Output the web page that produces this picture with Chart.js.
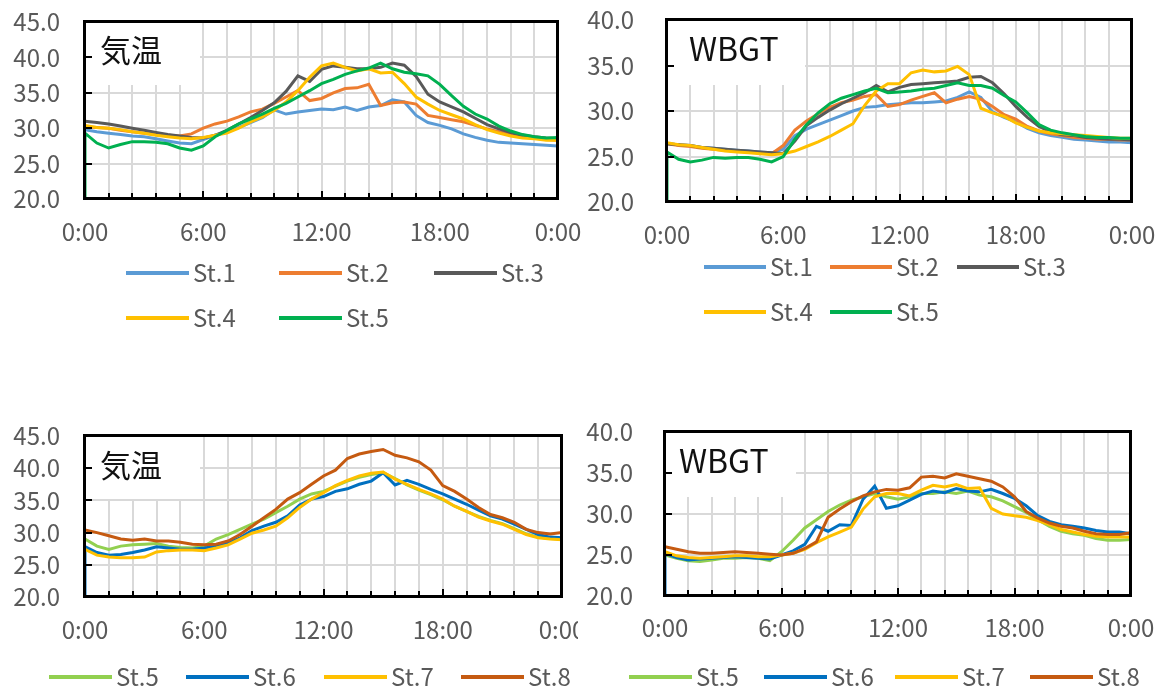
<!DOCTYPE html>
<html lang="ja">
<head>
<meta charset="utf-8">
<title>気温・WBGT</title>
<script src="https://cdn.jsdelivr.net/npm/chart.js@4.4.1/dist/chart.umd.min.js"></script>
<style>
  html, body { margin: 0; padding: 0; background: #fff; }
  body { width: 1168px; height: 689px; position: relative; overflow: hidden; }
  .panel { position: absolute; overflow: hidden; }
  .panel canvas { display: block; }
  .frame { position: absolute; box-sizing: border-box; border: 3px solid #000; pointer-events: none; }
  .tick { position: absolute; background: #000; pointer-events: none; }
</style>
</head>
<body>
<div class="panel" id="p-tl" style="left:0;top:0;width:600px;height:345px"><canvas id="tl" width="600" height="345"></canvas></div>
<div class="panel" id="p-tr" style="left:580px;top:0;width:588px;height:345px"><canvas id="tr" width="588" height="345"></canvas></div>
<div class="panel" id="p-bl" style="left:0;top:400px;width:578px;height:289px"><canvas id="bl" width="600" height="289"></canvas></div>
<div class="panel" id="p-br" style="left:580px;top:400px;width:588px;height:289px"><canvas id="br" width="588" height="289"></canvas></div>
<script>
// time of day in hours (one reading every 36 min)
const times = [0,0.6,1.2,1.8,2.4,3,3.6,4.2,4.8,5.4,6,6.6,7.2,7.8,8.4,9,9.6,10.2,10.8,11.4,12,
               12.6,13.2,13.8,14.4,15,15.6,16.2,16.8,17.4,18,18.6,19.2,19.8,20.4,21,21.6,22.2,22.8,23.4,24];

const topNames = ['St.1', 'St.2', 'St.3', 'St.4', 'St.5'];
const bottomNames = ['St.5', 'St.6', 'St.7', 'St.8'];
const topColors = ['#5B9BD5', '#ED7D31', '#595959', '#FFC000', '#00B050'];
const bottomColors = ['#92D050', '#0070C0', '#FFC000', '#C55A11'];

const tempTicks = [20, 25, 30, 35, 40, 45];
const wbgtTicks = [20, 25, 30, 35, 40];
const blankValue = 0; // logger writes an empty reading at both ends of the day

// 気温 (upper)
const tlSt1 = [29.8,29.5,29.3,29.1,28.9,28.8,28.5,28.2,27.9,27.8,28.4,29.0,29.5,30.1,30.8,31.5,32.6,32.0,32.3,32.5,32.7,32.6,33.0,32.5,33.0,33.2,34.0,33.7,31.8,30.8,30.4,29.9,29.2,28.7,28.3,28.0,27.9,27.8,27.7,27.6,27.5];
const tlSt2 = [30.2,30.1,30.0,29.7,29.5,29.3,29.1,29.0,28.9,29.2,30.0,30.6,31.0,31.6,32.3,32.7,33.5,34.4,35.3,33.9,34.2,35.0,35.6,35.7,36.2,33.2,33.6,33.7,33.4,31.8,31.5,31.2,30.9,30.4,29.9,29.5,29.1,28.8,28.6,28.4,28.3];
const tlSt3 = [31.0,30.8,30.6,30.3,30.0,29.7,29.4,29.1,28.9,28.7,28.6,29.0,29.7,30.6,31.5,32.5,33.6,35.2,37.4,36.6,38.3,38.8,38.6,38.4,38.4,38.6,39.2,38.9,37.3,34.8,33.7,33.0,32.3,31.4,30.5,29.9,29.4,29.0,28.8,28.6,28.5];
const tlSt4 = [30.4,30.1,30.0,29.8,29.5,29.3,29.0,28.8,28.6,28.5,28.7,29.0,29.3,30.0,30.9,31.6,32.5,33.7,35.3,37.2,38.8,39.2,38.6,38.1,38.4,37.8,37.9,36.3,34.4,33.4,32.5,31.9,31.3,30.5,29.8,29.3,28.9,28.6,28.5,28.3,28.3];
const tlSt5 = [29.3,27.9,27.2,27.7,28.1,28.1,28.0,27.8,27.2,26.9,27.5,28.8,29.7,30.6,31.3,32.0,32.8,33.5,34.4,35.3,36.3,36.9,37.6,38.1,38.5,39.2,38.4,37.9,37.7,37.4,36.2,34.6,33.1,32.0,31.3,30.3,29.6,29.1,28.8,28.6,28.7];

// WBGT (upper)
const trSt1 = [26.4,26.3,26.2,26.0,25.9,25.8,25.7,25.6,25.5,25.4,25.8,27.3,28.0,28.5,29.0,29.5,30.0,30.4,30.5,30.7,30.8,30.9,30.9,31.0,31.1,31.5,32.1,31.5,29.9,29.3,28.8,28.1,27.6,27.3,27.1,26.9,26.8,26.7,26.6,26.6,26.5];
const trSt2 = [26.4,26.2,26.1,25.9,25.8,25.7,25.6,25.5,25.4,25.3,26.2,27.9,28.9,29.7,30.4,30.9,31.2,31.6,31.8,30.5,30.7,31.2,31.6,32.0,30.9,31.3,31.6,31.3,30.5,29.6,29.1,28.3,27.8,27.5,27.3,27.1,27.0,26.9,26.9,26.8,26.8];
const trSt3 = [26.4,26.3,26.2,26.0,25.9,25.8,25.7,25.6,25.5,25.4,25.3,26.7,28.4,29.3,30.1,30.8,31.4,32.0,32.8,32.1,32.6,32.9,33.0,33.1,33.2,33.3,33.7,33.8,33.1,31.9,30.5,29.3,28.3,27.7,27.4,27.3,27.1,27.0,26.9,26.9,26.8];
const trSt4 = [26.5,26.3,26.2,26.0,25.8,25.6,25.5,25.4,25.3,25.2,25.3,25.6,26.1,26.6,27.2,27.9,28.6,30.6,32.2,33.0,33.0,34.2,34.5,34.3,34.4,34.9,34.0,30.3,29.8,29.4,28.7,28.2,27.8,27.6,27.5,27.4,27.3,27.2,27.1,27.0,27.0];
const trSt5 = [25.5,24.7,24.4,24.6,24.9,24.8,24.9,24.9,24.7,24.4,25.0,26.9,28.5,29.8,30.8,31.4,31.8,32.2,32.5,32.0,32.1,32.2,32.4,32.5,32.8,33.1,32.8,32.8,32.5,31.7,31.0,29.8,28.5,27.9,27.6,27.4,27.2,27.1,27.1,27.0,27.0];

// 気温 (lower)
const blSt5 = [29.0,27.9,27.4,27.9,28.1,28.2,28.3,27.9,27.7,27.6,27.9,29.0,29.7,30.5,31.3,32.1,33.1,34.1,35.2,36.0,36.4,37.2,38.0,38.6,39.0,39.3,38.4,37.4,36.6,35.9,35.1,34.1,33.3,32.5,31.9,31.4,30.6,29.8,29.3,29.1,29.0];
const blSt6 = [27.8,26.9,26.5,26.6,26.9,27.3,27.8,27.6,27.4,27.4,27.6,27.9,28.4,29.2,30.3,31.0,31.6,32.6,34.3,35.2,35.6,36.4,36.8,37.5,38.0,39.3,37.4,38.1,37.5,36.7,36.0,35.2,34.4,33.5,32.6,32.1,31.3,30.5,29.7,29.3,29.2];
const blSt7 = [27.4,26.5,26.2,26.1,26.1,26.2,27.0,27.2,27.3,27.3,27.2,27.6,28.1,29.0,29.9,30.4,31.0,32.3,33.9,35.2,36.2,37.3,38.1,38.8,39.2,39.4,38.3,37.5,36.7,36.0,35.2,34.1,33.3,32.4,31.8,31.3,30.5,29.7,29.2,29.0,28.9];
const blSt8 = [30.4,30.0,29.5,29.0,28.8,29.0,28.7,28.7,28.5,28.2,28.1,28.2,28.7,29.7,31.0,32.3,33.6,35.2,36.2,37.5,38.8,39.7,41.5,42.2,42.6,42.9,42.0,41.6,41.0,39.7,37.3,36.4,35.2,33.9,32.8,32.3,31.6,30.5,30.0,29.8,30.0];

// WBGT (lower)
const brSt5 = [25.0,24.6,24.3,24.2,24.4,24.6,24.6,24.7,24.6,24.3,25.4,26.8,28.3,29.3,30.3,31.1,31.7,32.1,32.5,32.1,31.8,32.1,32.5,32.5,32.7,32.5,32.8,32.3,32.1,31.6,30.9,30.2,29.3,28.5,27.9,27.6,27.4,27.0,26.8,26.8,26.9];
const brSt6 = [25.2,24.7,24.4,24.5,24.6,24.7,24.8,24.7,24.6,24.5,25.0,25.5,26.3,28.5,27.9,28.7,28.6,31.8,33.4,30.7,31.0,31.7,32.4,32.8,32.6,33.1,32.8,32.7,33.0,32.5,31.9,31.0,29.8,29.1,28.7,28.5,28.3,28.0,27.8,27.8,27.6];
const brSt7 = [25.4,24.9,24.7,24.6,24.7,24.8,24.9,24.9,24.8,24.8,25.0,25.2,25.7,26.5,27.2,27.8,28.4,30.6,32.1,32.5,32.5,32.2,32.9,33.5,33.3,33.6,33.1,33.2,30.7,30.0,29.8,29.6,29.2,28.7,28.1,27.8,27.5,27.3,27.2,27.2,27.2];
const brSt8 = [26.0,25.7,25.4,25.2,25.2,25.3,25.4,25.3,25.2,25.1,25.0,25.2,25.8,26.6,29.6,30.6,31.5,32.2,32.7,33.0,32.9,33.2,34.5,34.6,34.4,34.9,34.6,34.3,34.0,33.3,32.1,30.3,29.5,28.9,28.5,28.3,27.9,27.6,27.5,27.5,27.7];

const fontFamily = '"Noto Sans CJK JP", "Noto Sans", sans-serif';
const labelColor = '#595959';
const gridColor = '#D9D9D9';
const gridStep = 1.2; // vertical gridline every 72 min

function hourLabel(v) {
    const h = Math.round(v);
    if (Math.abs(v - h) > 1e-6 || h % 6 !== 0) return '';
    return (h % 24) + ':00';
}

function series(names, colors, values, dropIdx) {
    return names.map((name, i) => {
        const pts = times.map((t, j) => ({ x: t, y: values[i][j] }));
        if (i === dropIdx) {
            pts.unshift({ x: times[0], y: blankValue });
            pts.push({ x: times[times.length - 1], y: blankValue });
        }
        return {
            label: name,
            data: pts,
            borderColor: colors[i],
            backgroundColor: colors[i],
            borderWidth: 3,
            pointRadius: 0,
            tension: 0,
            order: names.length - i   // later stations drawn on top
        };
    });
}

// white title box over the grid, and the legend
const panelDeco = {
    id: 'panelDeco',
    beforeDatasetsDraw(chart, args, o) {
        const ctx = chart.ctx;
        const xs = chart.scales.x, ys = chart.scales.y;
        const l = Math.round(xs.getPixelForValue(xs.min));
        const t = Math.round(ys.getPixelForValue(ys.max));
        ctx.save();
        ctx.fillStyle = '#fff';
        ctx.fillRect(l + 1, t + 1, o.boxW, o.boxH);
        ctx.fillStyle = '#111';
        ctx.font = o.titleSize + 'px ' + fontFamily;
        ctx.textBaseline = 'middle';
        ctx.textAlign = 'left';
        ctx.fillText(o.title, l + o.titleX, t + o.titleY);
        ctx.restore();
    },
    afterDraw(chart, args, o) {
        const ctx = chart.ctx;
        const lg = o.legend;
        ctx.save();
        ctx.font = '24px ' + fontFamily;
        ctx.textBaseline = 'middle';
        ctx.textAlign = 'left';
        chart.data.datasets.forEach((ds, i) => {
            const x0 = lg.cols[i % lg.perRow];
            const y0 = lg.rows[Math.floor(i / lg.perRow)];
            ctx.fillStyle = ds.borderColor;
            ctx.fillRect(x0, y0 - 2, lg.lineLen, 4);
            ctx.fillStyle = labelColor;
            ctx.fillText(ds.label, x0 + lg.lineLen + 4, y0);
        });
        ctx.restore();
    }
};

// black plot frame and inward tick marks, placed from the chart's scales
function addFrame(chart, panelId) {
    const host = document.getElementById(panelId);
    const xs = chart.scales.x, ys = chart.scales.y;
    const l = Math.round(xs.getPixelForValue(xs.min));
    const r = Math.round(xs.getPixelForValue(xs.max));
    const t = Math.round(ys.getPixelForValue(ys.max));
    const b = Math.round(ys.getPixelForValue(ys.min));
    const add = (cls, x, y, w, h) => {
        const d = document.createElement('div');
        d.className = cls;
        d.style.left = x + 'px'; d.style.top = y + 'px';
        d.style.width = w + 'px'; d.style.height = h + 'px';
        host.appendChild(d);
    };
    add('frame', l - 2, t - 2, r - l + 3, b - t + 3);
    xs.ticks.forEach(tk => {
        const px = Math.round(xs.getPixelForValue(tk.value));
        const len = tk.label ? 8 : 6;
        add('tick', px - 1, b - len, 2, len);
    });
    ys.ticks.forEach(tk => {
        const py = Math.round(ys.getPixelForValue(tk.value));
        add('tick', l, py - 1, 7, 2);
    });
}

function makePanel(id, datasets, yTicks, lay) {
    const tickFont = { family: fontFamily, size: 24 };
    const chart = new Chart(document.getElementById(id), {
        type: 'line',
        data: { datasets },
        options: {
            responsive: false,
            animation: false,
            events: [],
            layout: { padding: { left: 0, top: lay.top, right: lay.right, bottom: 0 } },
            plugins: {
                legend: { display: false },
                tooltip: { enabled: false },
                panelDeco: lay.deco
            },
            scales: {
                x: {
                    type: 'linear', min: 0, max: 24,
                    afterBuildTicks: s => {
                        const t = [];
                        for (let k = 0; k <= 20; k++) t.push({ value: k * gridStep });
                        s.ticks = t;
                    },
                    afterFit: s => { s.height = lay.xh; s.paddingLeft = 0; s.paddingRight = 0; },
                    grid: { color: gridColor, lineWidth: 2, drawTicks: false },
                    border: { display: false },
                    ticks: { autoSkip: false, maxRotation: 0, minRotation: 0, padding: lay.xPad,
                             color: labelColor, font: tickFont, callback: hourLabel }
                },
                y: {
                    min: yTicks[0], max: yTicks[yTicks.length - 1],
                    afterBuildTicks: s => { s.ticks = yTicks.map(v => ({ value: v })); },
                    afterFit: s => { s.width = lay.yw; s.paddingTop = 0; s.paddingBottom = 0; },
                    grid: { color: gridColor, lineWidth: 2, drawTicks: false },
                    border: { display: false },
                    ticks: { autoSkip: false, padding: lay.yPad, color: labelColor, font: tickFont,
                             callback: v => v.toFixed(1) }
                }
            }
        },
        plugins: [panelDeco]
    });
    addFrame(chart, 'p-' + id);
    return chart;
}

makePanel('tl', series(topNames, topColors, [tlSt1, tlSt2, tlSt3, tlSt4, tlSt5], 4), tempTicks, {
    top: 22, right: 42, xh: 146, yw: 85, yPad: 25, xPad: 18,
    deco: { boxW: 114, boxH: 62, title: '気温', titleSize: 31, titleX: 15, titleY: 28,
            legend: { cols: [126, 279, 434], rows: [273, 318], perRow: 3, lineLen: 63 } }
});
makePanel('tr', series(topNames, topColors, [trSt1, trSt2, trSt3, trSt4, trSt5], 4), wbgtTicks, {
    top: 20, right: 36, xh: 143, yw: 87, yPad: 33, xPad: 18,
    deco: { boxW: 137, boxH: 64, title: 'WBGT', titleSize: 32, titleX: 22, titleY: 29,
            legend: { cols: [124, 250, 377], rows: [267, 312], perRow: 3, lineLen: 62 } }
});
makePanel('bl', series(bottomNames, bottomColors, [blSt5, blSt6, blSt7, blSt8], 1), tempTicks, {
    top: 36, right: 38, xh: 92, yw: 85, yPad: 25, xPad: 18,
    deco: { boxW: 114, boxH: 62, title: '気温', titleSize: 31, titleX: 15, titleY: 29,
            legend: { cols: [49, 186, 324, 461], rows: [277], perRow: 4, lineLen: 63 } }
});
makePanel('br', series(bottomNames, bottomColors, [brSt5, brSt6, brSt7, brSt8], 1), wbgtTicks, {
    top: 32, right: 37, xh: 93, yw: 85, yPad: 32, xPad: 17,
    deco: { boxW: 130, boxH: 64, title: 'WBGT', titleSize: 32, titleX: 14, titleY: 29,
            legend: { cols: [49, 184, 315, 450], rows: [277], perRow: 4, lineLen: 63 } }
});
</script>
</body>
</html>
